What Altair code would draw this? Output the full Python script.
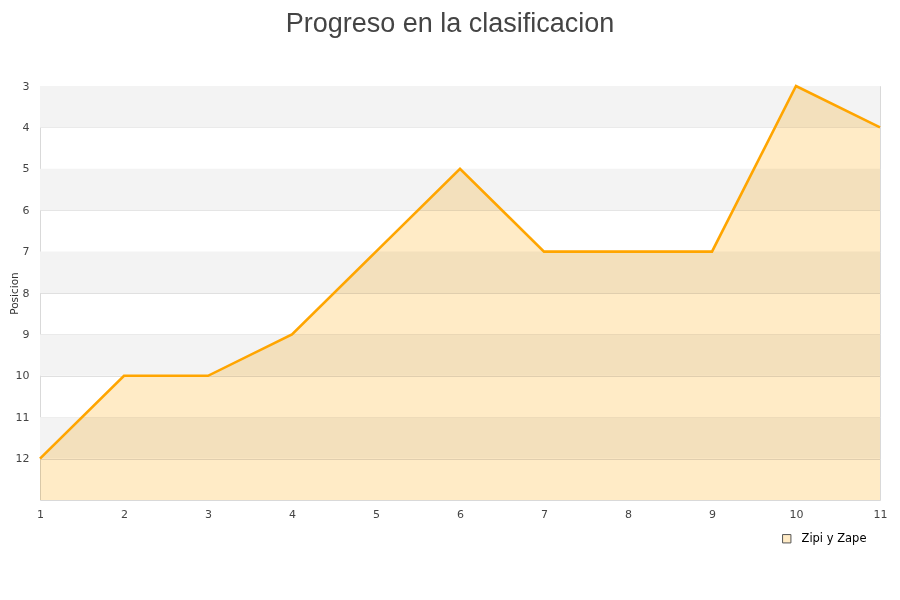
import altair as alt
import pandas as pd

jornadas = [1, 2, 3, 4, 5, 6, 7, 8, 9, 10, 11]
posicion = [12, 10, 10, 9, 7, 5, 7, 7, 7, 3, 4]
equipo = "Zipi y Zape"
band_start = [3, 5, 7, 9, 11]
band_end = [4, 6, 8, 10, 12]

df = pd.DataFrame({"jornada": jornadas, "posicion": posicion, "equipo": [equipo] * len(jornadas), "base": [13] * len(jornadas)})
bands = pd.DataFrame({"y1": band_start, "y2": band_end})

yscale = alt.Scale(domain=[3, 13], reverse=True, nice=False, zero=False)
xscale = alt.Scale(domain=[1, 11], nice=False, zero=False)

band_layer = alt.Chart(bands).mark_rect(color="#f3f3f3").encode(
    y=alt.Y("y1:Q", scale=yscale),
    y2="y2:Q",
    x=alt.value(0),
    x2=alt.value(840),
)

area = alt.Chart(df).mark_area(blend="multiply").encode(
    x=alt.X("jornada:Q", scale=xscale,
            axis=alt.Axis(values=jornadas, format="d", title=None, ticks=False, domain=False, grid=False,
                          labelFlush=False, labelFont="DejaVu Sans", labelFontSize=11, labelColor="#444",
                          labelPadding=8)),
    y=alt.Y("posicion:Q", scale=yscale,
            axis=alt.Axis(values=list(range(3, 13)), format="d", title="Posicion", ticks=False, domain=False,
                          grid=True, gridColor="#e0e0e0", labelFont="DejaVu Sans", labelFontSize=11,
                          labelColor="#444", labelPadding=11, titleFont="DejaVu Sans", titleFontSize=10.5,
                          titleFontWeight="normal", titleColor="#333", titleX=-26, titleY=207,
                          titleAlign="center", titleBaseline="middle", titleAngle=270)),
    y2="base:Q",
    color=alt.Color("equipo:N", scale=alt.Scale(domain=[equipo], range=["#ffebc6"]),
                    legend=alt.Legend(title=None, orient="none", legendX=741, legendY=447,
                                      symbolType="square", symbolSize=70, symbolStrokeColor="#555",
                                      symbolStrokeWidth=1, labelFont="DejaVu Sans", labelFontSize=11.5,
                                      labelOffset=9, labelColor="#000")),
)

line = alt.Chart(df).mark_line(color="#ffa500", strokeWidth=2.6).encode(
    x=alt.X("jornada:Q", scale=xscale),
    y=alt.Y("posicion:Q", scale=yscale),
)

chart = alt.layer(band_layer, area, line).properties(
    width=840, height=414,
    title=alt.Title("Progreso en la clasificacion", font="Liberation Sans", fontSize=27,
                    fontWeight="normal", color="#444", anchor="middle", offset=42, dx=-10),
    padding={"left": 32, "top": 78, "right": 12, "bottom": 80},
    autosize=alt.AutoSizeParams(type="none"),
).configure_view(stroke="#d9d9d9", strokeWidth=1)

chart.save("out.html", embed_options={"renderer": "svg", "actions": False})
